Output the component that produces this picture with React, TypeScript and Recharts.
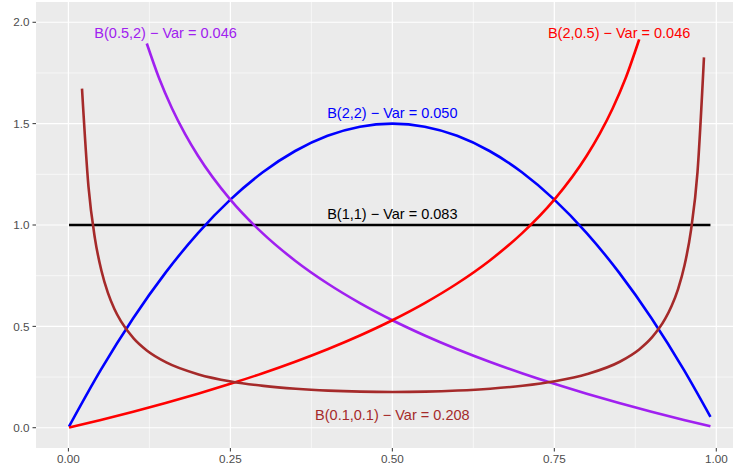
import React from "react";
import { ComposedChart, Line, XAxis, YAxis, CartesianGrid, Scatter } from "recharts";

// Beta(1,1)
const b11X = [0.001, 0.991];
const b11Y = [1, 1];

// Beta(2,2)
const b22X = [0.001, 0.05, 0.1, 0.15, 0.2, 0.25, 0.3, 0.35, 0.4, 0.45, 0.5, 0.55, 0.6, 0.65, 0.7, 0.75, 0.8, 0.85, 0.9, 0.95, 0.991];
const b22Y = [0.006, 0.285, 0.54, 0.765, 0.96, 1.125, 1.26, 1.365, 1.44, 1.485, 1.5, 1.485, 1.44, 1.365, 1.26, 1.125, 0.96, 0.765, 0.54, 0.285, 0.0535];

// Beta(2,0.5)
const b205X = [0.001, 0.05, 0.1, 0.15, 0.2, 0.25, 0.3, 0.35, 0.4, 0.45, 0.5, 0.55, 0.6, 0.65, 0.7, 0.75, 0.8, 0.82, 0.84, 0.86, 0.881];
const b205Y = [0.001, 0.0385, 0.0791, 0.122, 0.1677, 0.2165, 0.2689, 0.3256, 0.3873, 0.4551, 0.5303, 0.6149, 0.7115, 0.824, 0.9585, 1.125, 1.3416, 1.4495, 1.575, 1.7237, 1.9155];

// Beta(0.5,2)
const b052X = [0.121, 0.14, 0.16, 0.18, 0.2, 0.25, 0.3, 0.35, 0.4, 0.45, 0.5, 0.55, 0.6, 0.65, 0.7, 0.75, 0.8, 0.85, 0.9, 0.95, 0.991];
const b052Y = [1.8952, 1.7238, 1.575, 1.4496, 1.3416, 1.125, 0.9585, 0.824, 0.7115, 0.6149, 0.5303, 0.4551, 0.3873, 0.3256, 0.2689, 0.2165, 0.1677, 0.122, 0.0791, 0.0385, 0.0068];

// Beta(0.1,0.1)
const b0101X = [0.021, 0.031, 0.041, 0.051, 0.061, 0.071, 0.081, 0.101, 0.121, 0.151, 0.201, 0.251, 0.301, 0.351, 0.401, 0.451, 0.501, 0.551, 0.601, 0.651, 0.701, 0.751, 0.801, 0.851, 0.881, 0.901, 0.921, 0.931, 0.941, 0.951, 0.961, 0.971, 0.981];
const b0101Y = [1.673, 1.189, 0.933, 0.774, 0.665, 0.586, 0.5256, 0.4395, 0.3811, 0.3222, 0.263, 0.2283, 0.2063, 0.1921, 0.1831, 0.1782, 0.1766, 0.1782, 0.1834, 0.1925, 0.207, 0.2294, 0.2648, 0.3254, 0.3861, 0.4466, 0.5364, 0.6, 0.684, 0.801, 0.975, 1.261, 1.827];

// Annotations
const labelTexts = [
  "B(0.5,2) \u2212 Var = 0.046",
  "B(2,0.5) \u2212 Var = 0.046",
  "B(2,2) \u2212 Var = 0.050",
  "B(1,1) \u2212 Var = 0.083",
  "B(0.1,0.1) \u2212 Var = 0.208",
];
const labelX = [0.15, 0.85, 0.5, 0.5, 0.5];
const labelY = [1.95, 1.95, 1.554, 1.057, 0.063];
const labelColors = ["#A020F0", "#FF0000", "#0000FF", "#000000", "#A52A2A"];

const xTicks = [0, 0.25, 0.5, 0.75, 1];
const yTicks = [0, 0.5, 1, 1.5, 2];
const xMinor = [0.125, 0.375, 0.625, 0.875];
const yMinor = [0.25, 0.75, 1.25, 1.75];

const toPts = (xs: number[], ys: number[]) => xs.map((x, i) => ({ x, y: ys[i] }));

const series = [
  { name: "b11", data: toPts(b11X, b11Y), color: "#000000" },
  { name: "b22", data: toPts(b22X, b22Y), color: "#0000FF" },
  { name: "b052", data: toPts(b052X, b052Y), color: "#A020F0" },
  { name: "b205", data: toPts(b205X, b205Y), color: "#FF0000" },
  { name: "b0101", data: toPts(b0101X, b0101Y), color: "#A52A2A" },
];

const labelData = labelTexts.map((t, i) => ({ x: labelX[i], y: labelY[i], text: t, color: labelColors[i] }));

const FONT = "'Liberation Sans', Arial, Helvetica, sans-serif";

const LabelShape = (p: any) => (
  <text
    x={p.cx}
    y={p.cy}
    dy="0.36em"
    textAnchor="middle"
    fill={p.payload.color}
    fontSize={14.5}
    fontFamily={FONT}
  >
    {p.payload.text}
  </text>
);

export default function App() {
  return (
    <div style={{ position: "absolute", left: 0, top: 0, width: 733, height: 471, overflow: "hidden", background: "#fff" }}>
      <ComposedChart width={733} height={471} margin={{ top: 2, right: 0, bottom: 0, left: 0 }}>
        <CartesianGrid
          fill="#EBEBEB"
          stroke="#FFFFFF"
          strokeWidth={0.6}
          horizontalValues={yMinor}
          verticalValues={xMinor}
        />
        <CartesianGrid
          stroke="#FFFFFF"
          strokeWidth={1.2}
          horizontalValues={yTicks}
          verticalValues={xTicks}
        />
        <XAxis
          dataKey="x"
          type="number"
          domain={[-0.05, 1.0258]}
          ticks={xTicks}
          tickFormatter={(v: number) => v.toFixed(2)}
          height={23}
          axisLine={false}
          tickSize={3.5}
          tickMargin={3.5}
          tickLine={{ stroke: "#333333", strokeWidth: 1 }}
          tick={{ fill: "#4D4D4D", fontSize: 11.7, fontFamily: FONT }}
          allowDataOverflow
        />
        <YAxis
          type="number"
          domain={[-0.1, 2.1]}
          ticks={yTicks}
          tickFormatter={(v: number) => v.toFixed(1)}
          width={36}
          axisLine={false}
          tickSize={3.5}
          tickMargin={3}
          tickLine={{ stroke: "#333333", strokeWidth: 1 }}
          tick={{ fill: "#4D4D4D", fontSize: 11.7, fontFamily: FONT }}
          allowDataOverflow
        />
        {series.map((s) => (
          <Line
            key={s.name}
            data={s.data}
            dataKey="y"
            type="monotone"
            stroke={s.color}
            strokeWidth={2.6}
            dot={false}
            activeDot={false}
            isAnimationActive={false}
          />
        ))}
        <Scatter data={labelData} dataKey="y" shape={LabelShape} isAnimationActive={false} />
      </ComposedChart>
    </div>
  );
}
